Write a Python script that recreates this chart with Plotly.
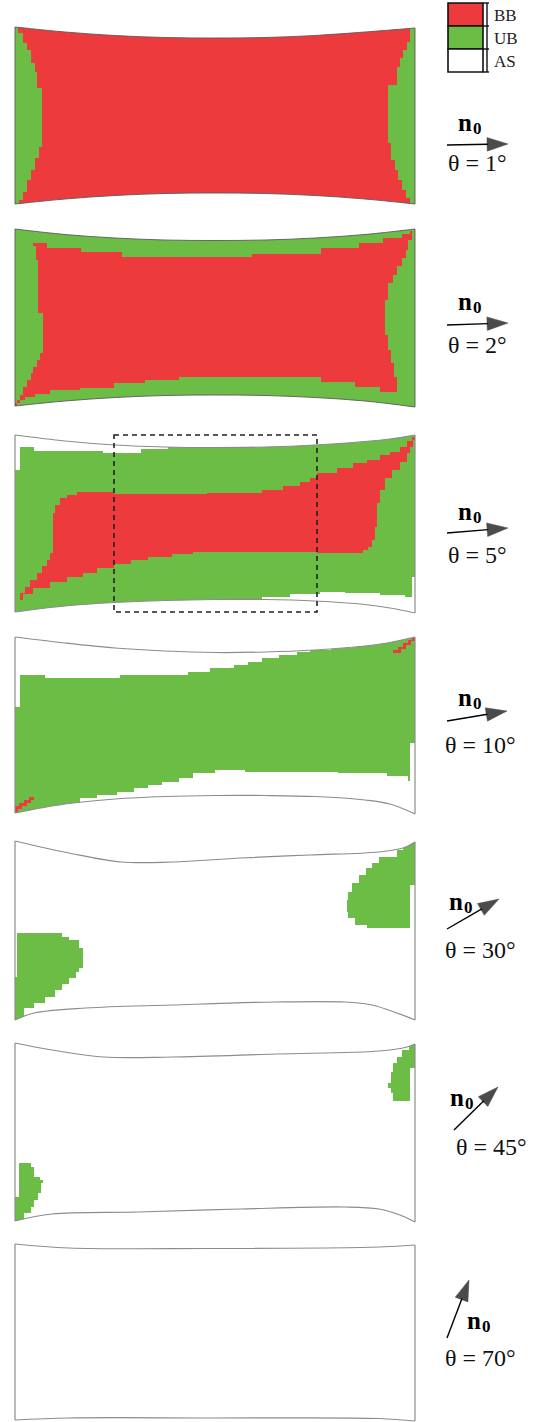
import plotly.graph_objects as go

# ---------------- colours / states ----------------
STATE_NAMES = ['BB', 'UB', 'AS']
STATE_COLORS = {'BB': '#ED3A3C', 'UB': '#6CBD45', 'AS': '#FFFFFF'}

# ---------------- panel outlines (figure coordinates) ----------------
P1_TOP_X = [15, 65, 115, 165, 215, 265, 315, 365, 415]
P1_TOP_Y = [27, 32, 35.5, 37.5, 38, 37.5, 35.5, 32, 28]
P1_BOT_X = [15, 65, 115, 165, 215, 265, 315, 365, 415]
P1_BOT_Y = [204, 199, 195.5, 193.5, 193, 193.5, 195.5, 199, 204]

P2_TOP_X = [15, 65, 115, 165, 215, 265, 315, 365, 415]
P2_TOP_Y = [229, 234.5, 238, 240, 240.5, 240, 238, 234.5, 229]
P2_BOT_X = [15, 65, 115, 165, 215, 265, 315, 365, 415]
P2_BOT_Y = [406, 401, 397.5, 395.5, 395, 395.5, 397.5, 401, 407]

P3_TOP_X = [15, 65, 115, 165, 215, 265, 315, 365, 390, 415]
P3_TOP_Y = [435, 441, 445, 447, 447.5, 447, 445, 441.5, 439, 435]
P3_BOT_X = [15, 65, 115, 165, 215, 265, 315, 365, 390, 415]
P3_BOT_Y = [612, 606, 602.5, 600.5, 599.5, 599.5, 601, 604.5, 608, 613]

P4_TOP_X = [15, 65, 115, 165, 215, 265, 315, 365, 390, 415]
P4_TOP_Y = [637, 643, 648, 651, 652.5, 652, 650, 646, 642.5, 637]
P4_BOT_X = [15, 65, 115, 165, 215, 265, 315, 365, 390, 415]
P4_BOT_Y = [813, 804, 799, 796.5, 795.5, 795.5, 796.5, 800, 804, 814]

P5_TOP_X = [15, 69, 121, 172, 241, 310, 379, 403, 415]
P5_TOP_Y = [841, 853, 862, 862, 858, 855, 852, 848, 842]
P5_BOT_X = [15, 34, 86, 172, 276, 345, 372, 397, 415]
P5_BOT_Y = [1020, 1013, 1008, 1005, 1002, 1002, 1005, 1013, 1020]

P6_TOP_X = [15, 52, 103, 172, 276, 379, 407, 415]
P6_TOP_Y = [1043, 1050, 1057, 1057, 1054, 1051, 1047, 1044]
P6_BOT_X = [15, 52, 138, 241, 345, 379, 400, 415]
P6_BOT_Y = [1221, 1214, 1212, 1209, 1207, 1209, 1215, 1222]

P7_TOP_X = [15, 69, 207, 379, 415]
P7_TOP_Y = [1244, 1248, 1248.5, 1247, 1245]
P7_BOT_X = [15, 69, 207, 379, 415]
P7_BOT_Y = [1420, 1418, 1418, 1418.5, 1421]

# background state of each panel
PANEL_BASE = ['BB', 'UB', 'UB', 'UB', 'AS', 'AS', 'AS']

# ---------------- region boundaries (mesh staircase) ----------------
# each region: (state, [(mode, points), ...]); mode 'l' linear, 'vh'/'hv' staircase, '_r' = reversed
P1_REGIONS = [
    ('UB', [('l', [(15, 27)]),
            ('vh', [(18, 27), (23, 33), (27, 43), (31, 50), (35, 63), (37, 72), (42, 88), (39, 147),
                    (35, 158), (31, 170), (27, 180), (23, 192), (19, 200), (19, 205)]),
            ('l', [(15, 205)])]),
    ('UB', [('l', [(415, 27)]),
            ('vh', [(410, 27), (407, 42), (403, 50), (400, 58), (397, 67), (388, 85), (391, 143),
                    (395, 160), (398, 170), (402, 180), (406, 190), (410, 198), (410, 205)]),
            ('l', [(415, 205)])]),
]

P2_REGIONS = [
    ('BB', [('hv', [(33, 243), (47, 248), (81, 252), (122, 257), (252, 254), (321, 248), (359, 243),
                    (383, 238), (402, 234), (410, 231), (412, 231)]),
            ('vh', [(412, 231), (408, 240), (406, 250), (402, 258), (397, 266), (393, 275), (388, 283),
                    (385, 300), (388, 335), (391, 350), (394, 363), (397, 377), (397, 392)]),
            ('hv', [(397, 392), (380, 387), (355, 382), (321, 377), (179, 380), (145, 383), (114, 388),
                    (80, 390), (50, 394), (35, 397), (25, 400), (20, 403), (15, 406)]),
            ('vh_r', [(33, 243), (36, 246), (38, 260), (43, 313), (40, 353), (37, 360), (33, 367),
                      (31, 373), (27, 380), (23, 387), (20, 395), (17, 400), (15, 406)])]),
]

P3_REGIONS = [
    ('AS', [('l', [(15, 433), (168, 433)]),
            ('hv', [(168, 449), (141, 453), (103, 451), (34, 447), (20, 447)]),
            ('l', [(20, 470), (15, 470)])]),
    ('AS', [('l', [(415, 577), (412, 577)]),
            ('hv', [(412, 597), (405, 595), (380, 593), (345, 592), (320, 594), (290, 597), (262, 600)]),
            ('l', [(262, 615), (415, 615)])]),
    ('BB', [('hv', [(60, 498), (67, 495), (77, 492), (114, 494), (207, 493), (262, 490), (283, 486),
                    (300, 482), (310, 478), (317, 473), (337, 468), (353, 463), (367, 460), (380, 455),
                    (390, 452), (400, 447), (407, 441), (412, 437), (415, 435)]),
            ('vh', [(415, 435), (413, 440), (410, 447), (407, 453), (400, 462), (392, 470), (385, 478),
                    (380, 490), (377, 503), (375, 527), (372, 540), (368, 547), (363, 550), (353, 553)]),
            ('hv', [(353, 553), (317, 552), (193, 554), (172, 557), (148, 560), (131, 564), (114, 568),
                    (97, 573), (83, 577), (67, 582), (50, 588), (33, 594), (23, 600), (17, 606), (15, 612)]),
            ('vh_r', [(60, 498), (55, 505), (53, 513), (50, 553), (47, 560), (42, 566), (37, 573),
                      (30, 580), (25, 587), (20, 593), (17, 600), (15, 606), (15, 612)])]),
]

P4_REGIONS = [
    ('AS', [('l', [(15, 635), (352, 635)]),
            ('hv', [(352, 648), (331, 650), (310, 652), (297, 655), (279, 658), (262, 662), (248, 665),
                    (234, 668), (210, 672), (188, 675), (120, 678), (45, 675), (20, 673)]),
            ('l', [(20, 707), (15, 707)])]),
    ('AS', [('l', [(415, 743), (410, 743)]),
            ('hv', [(410, 781), (408, 776), (387, 773), (338, 772), (245, 770), (215, 773), (193, 778),
                    (179, 782), (162, 785), (148, 788), (134, 792), (117, 795), (97, 798), (80, 802)]),
            ('l', [(80, 816), (415, 816)])]),
    ('BB', [('l', [(393, 653), (393, 650), (398, 650), (398, 647), (403, 647), (403, 643), (408, 643),
                   (408, 640), (412, 640), (412, 636), (415, 636), (415, 641), (411, 641), (411, 645),
                   (406, 645), (406, 649), (401, 649), (401, 653)])]),
    ('BB', [('l', [(15, 814), (15, 806), (19, 806), (19, 803), (24, 803), (24, 800), (29, 800), (29, 797),
                   (34, 797), (34, 800), (31, 800), (31, 803), (27, 803), (27, 806), (22, 806), (22, 809),
                   (18, 809), (18, 812)])]),
]

P5_REGIONS = [
    ('UB', [('l', [(17, 933)]),
            ('vh', [(62, 933), (69, 937), (79, 940), (83, 948), (79, 968), (76, 972), (69, 978), (62, 984),
                    (55, 990), (45, 997), (34, 1003), (24, 1008), (24, 1022)]),
            ('l', [(15, 1022), (15, 977), (17, 977)])]),
    ('UB', [('vh', [(403, 840), (397, 850), (379, 857), (372, 863), (366, 868), (359, 875), (352, 883),
                    (348, 892), (347, 900), (348, 912), (355, 918), (367, 925), (410, 928)]),
            ('l', [(410, 885), (415, 885), (415, 840)])]),
]

P6_REGIONS = [
    ('UB', [('l', [(19, 1163)]),
            ('vh', [(31, 1163), (34, 1167), (40, 1177), (43, 1180), (41, 1183), (38, 1193), (34, 1200),
                    (31, 1207), (24, 1213), (24, 1224)]),
            ('l', [(15, 1224), (15, 1197), (19, 1197)])]),
    ('UB', [('vh', [(409, 1042), (402, 1050), (397, 1057), (393, 1063), (391, 1072), (388, 1083),
                    (391, 1088), (393, 1093), (393, 1101)]),
            ('l', [(410, 1101), (410, 1068), (415, 1068), (415, 1042)])]),
]

P7_REGIONS = []

THETA_DEG = [1, 2, 5, 10, 30, 45, 70]
THETA_LABELS = ['θ = %d°' % t for t in THETA_DEG]

# ---------------- layout positions for annotations ----------------
ARROW_TAIL = [(447, 145), (447, 325), (447, 533), (447, 721), (447, 929), (454, 1130), (447, 1338)]
ARROW_HEAD = [(508, 144), (508, 323), (508, 528), (507, 711), (499, 899), (498, 1087), (469, 1280)]
N0_POS = [(470, 125), (470, 304), (470, 514), (470, 700), (461, 904), (462, 1100), (479, 1323)]
THETA_POS = [(477, 163), (477, 345), (477, 555), (480, 745), (480, 950), (491, 1147), (480, 1358)]

SERIF = 'Liberation Serif'


def expand(mode, pts):
    base = mode.replace('_r', '')
    out = [pts[0]]
    for (x0, y0), (x1, y1) in zip(pts[:-1], pts[1:]):
        if base == 'vh':
            out.append((x0, y1))
        elif base == 'hv':
            out.append((x1, y0))
        out.append((x1, y1))
    if mode.endswith('_r'):
        out = out[::-1]
    return out


fig = go.Figure()


def poly(xs, ys, color):
    fig.add_trace(go.Scatter(x=xs, y=ys, mode='lines', fill='toself', fillcolor=color,
                             line=dict(width=0, color=color), hoverinfo='skip'))


panels = [
    (P1_TOP_X, P1_TOP_Y, P1_BOT_X, P1_BOT_Y, P1_REGIONS),
    (P2_TOP_X, P2_TOP_Y, P2_BOT_X, P2_BOT_Y, P2_REGIONS),
    (P3_TOP_X, P3_TOP_Y, P3_BOT_X, P3_BOT_Y, P3_REGIONS),
    (P4_TOP_X, P4_TOP_Y, P4_BOT_X, P4_BOT_Y, P4_REGIONS),
    (P5_TOP_X, P5_TOP_Y, P5_BOT_X, P5_BOT_Y, P5_REGIONS),
    (P6_TOP_X, P6_TOP_Y, P6_BOT_X, P6_BOT_Y, P6_REGIONS),
    (P7_TOP_X, P7_TOP_Y, P7_BOT_X, P7_BOT_Y, P7_REGIONS),
]

for i, (tx, ty, bx, by, regions) in enumerate(panels):
    xl, xr = tx[0], tx[-1]
    ytop, ybot = min(ty), max(by)
    # base state
    poly([xl, xr, xr, xl], [ytop - 2, ytop - 2, ybot + 2, ybot + 2], STATE_COLORS[PANEL_BASE[i]])
    # regions
    for state, pieces in regions:
        pts = []
        for mode, p in pieces:
            pts += expand(mode, p)
        poly([p[0] for p in pts], [p[1] for p in pts], STATE_COLORS[state])
    # white masks outside the curved boundaries
    fig.add_trace(go.Scatter(x=[xl - 1, xr + 1], y=[ytop - 5, ytop - 5], mode='lines',
                             line=dict(width=0, color='white'), hoverinfo='skip'))
    fig.add_trace(go.Scatter(x=tx, y=ty, mode='lines', line=dict(width=0, color='white', shape='spline'),
                             fill='tonexty', fillcolor='white', hoverinfo='skip'))
    fig.add_trace(go.Scatter(x=[xl - 1, xr + 1], y=[ybot + 5, ybot + 5], mode='lines',
                             line=dict(width=0, color='white'), hoverinfo='skip'))
    fig.add_trace(go.Scatter(x=bx, y=by, mode='lines', line=dict(width=0, color='white', shape='spline'),
                             fill='tonexty', fillcolor='white', hoverinfo='skip'))
    # outline
    oc = '#5a5a5a' if i < 2 else '#8c8c8c'
    ow = 0.9 if i < 2 else 1.2
    fig.add_trace(go.Scatter(x=tx, y=ty, mode='lines', line=dict(width=ow, color=oc, shape='spline'),
                             hoverinfo='skip'))
    fig.add_trace(go.Scatter(x=bx, y=by, mode='lines', line=dict(width=ow, color=oc, shape='spline'),
                             hoverinfo='skip'))
    fig.add_trace(go.Scatter(x=[xl, xl, None, xr, xr], y=[ty[0], by[0], None, ty[-1], by[-1]], mode='lines',
                             line=dict(width=ow, color=oc), hoverinfo='skip'))

# arrows n0 (line + arrow-head marker)
for (tx_, ty_), (hx, hy) in zip(ARROW_TAIL, ARROW_HEAD):
    fig.add_trace(go.Scatter(x=[tx_, hx], y=[ty_, hy], mode='lines+markers',
                             line=dict(color='black', width=1.4),
                             marker=dict(symbol='arrow', size=[0, 22], angleref='previous', color='black',
                                         line=dict(width=0.5, color='black')),
                             hoverinfo='skip'))

# dashed zoom box in panel 3
fig.add_shape(type='rect', x0=114, x1=317, y0=435, y1=612, xref='x', yref='y',
              line=dict(color='#222', width=1.6, dash='5px,4px'))

# legend
LEG_X0, LEG_X1, LEG_Y0, LEG_H = 448, 483, 3, 23
for k, name in enumerate(STATE_NAMES):
    y0 = LEG_Y0 + k * LEG_H
    fig.add_shape(type='rect', x0=LEG_X0, x1=LEG_X1, y0=y0, y1=y0 + LEG_H, xref='x', yref='y',
                  fillcolor=STATE_COLORS[name], line=dict(color='#111', width=1.6))
    fig.add_annotation(x=492, y=y0 + LEG_H / 2 + 0.5, text=name, showarrow=False, xanchor='left',
                       yanchor='middle', font=dict(family=SERIF, size=17, color='#222'))
fig.add_shape(type='line', x0=487, x1=487, y0=LEG_Y0, y1=LEG_Y0 + 3 * LEG_H, xref='x', yref='y',
              line=dict(color='#111', width=1.4))
for k in range(4):
    yk = LEG_Y0 + k * LEG_H
    fig.add_shape(type='line', x0=LEG_X1, x1=489, y0=yk, y1=yk, xref='x', yref='y',
                  line=dict(color='#111', width=1.4))

# n0 and theta labels
for (nx, ny), (lx, ly), lab in zip(N0_POS, THETA_POS, THETA_LABELS):
    fig.add_annotation(x=nx - 5, y=ny - 3, text='<b>n</b>', showarrow=False,
                       xanchor='center', yanchor='middle', font=dict(family=SERIF, size=25, color='black'))
    fig.add_annotation(x=nx + 7.5, y=ny + 3.5, text='<b>0</b>', showarrow=False,
                       xanchor='center', yanchor='middle', font=dict(family=SERIF, size=17, color='black'))
    fig.add_annotation(x=lx, y=ly, text=lab, showarrow=False, xanchor='center', yanchor='middle',
                       font=dict(family=SERIF, size=24, color='#111'))

fig.update_layout(width=541, height=1422, margin=dict(l=0, r=0, t=0, b=0),
                  paper_bgcolor='white', plot_bgcolor='white', showlegend=False,
                  xaxis=dict(range=[0, 541], visible=False, fixedrange=True),
                  yaxis=dict(range=[1422, 0], visible=False, fixedrange=True))

fig.write_html('out.html', config={'displayModeBar': False})
